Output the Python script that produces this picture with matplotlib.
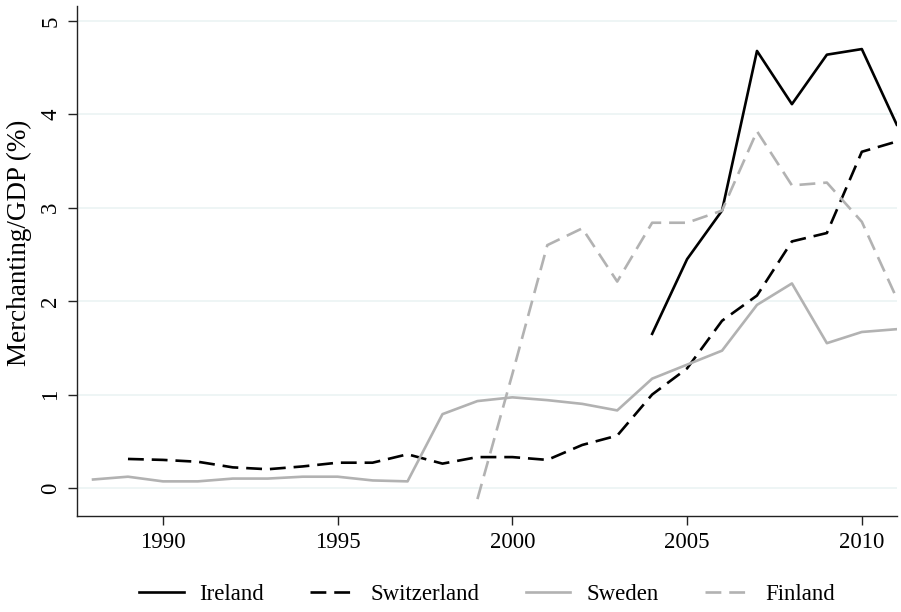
import numpy as np
import matplotlib.pyplot as plt

plt.rcParams['font.family'] = ['Liberation Serif', 'DejaVu Serif']

# merchanting as a share of GDP (%), by year
years_ireland = [2004, 2005, 2006, 2007, 2008, 2009, 2010, 2011]
ireland = [1.65, 2.45, 2.97, 4.68, 4.11, 4.64, 4.70, 3.89]

years_switzerland = list(range(1989, 2012))
switzerland = [0.31, 0.30, 0.28, 0.22, 0.20, 0.23, 0.27, 0.27, 0.36, 0.26,
               0.33, 0.33, 0.30, 0.46, 0.56, 1.00, 1.28, 1.79, 2.06, 2.64,
               2.73, 3.60, 3.71]

years_sweden = list(range(1988, 2012))
sweden = [0.09, 0.12, 0.07, 0.07, 0.10, 0.10, 0.12, 0.12, 0.08, 0.07,
          0.79, 0.93, 0.97, 0.94, 0.90, 0.83, 1.17, 1.32, 1.47, 1.96,
          2.19, 1.55, 1.67, 1.70]

years_finland = list(range(1999, 2012))
finland = [-0.12, 1.22, 2.60, 2.78, 2.21, 2.84, 2.84, 2.97, 3.82, 3.24,
           3.27, 2.85, 2.03]

x_ticks = [1990, 1995, 2000, 2005, 2010]
y_ticks = [0, 1, 2, 3, 4, 5]

grey = '#b2b2b2'
lw = 1.9
dash = (6, 3)

fig = plt.figure(figsize=(9.01, 6.12), dpi=100)
ax = fig.add_axes([0.0858, 0.157, 0.9095, 0.833])

ax.plot(years_ireland, ireland, color='black', lw=lw, label='Ireland')
ax.plot(years_switzerland, switzerland, color='black', lw=lw,
        dashes=dash, label='Switzerland')
ax.plot(years_sweden, sweden, color=grey, lw=lw, label='Sweden')
ax.plot(years_finland, finland, color=grey, lw=lw, dashes=dash,
        label='Finland')

ax.set_xlim(1987.55, 2011)
ax.set_ylim(-0.30, 5.16)
ax.set_xticks(x_ticks)
ax.set_yticks(y_ticks)
ax.set_yticklabels([str(v) for v in y_ticks], rotation=90, va='center')
ax.grid(axis='y', color='#eaf2f3', lw=1.1)
ax.set_axisbelow(True)

for side in ['top', 'right']:
    ax.spines[side].set_visible(False)
for side in ['left', 'bottom']:
    ax.spines[side].set_linewidth(1.0)
    ax.spines[side].set_color('#222222')
ax.tick_params(direction='out', length=6.5, width=1.0, color='#222222',
               labelsize=16.5, pad=5)

ax.set_ylabel('Merchanting/GDP (%)', fontsize=19.5)
ax.yaxis.set_label_coords(-0.055, 0.535)

# legend centred under the plot region
fig.legend(loc='center', bbox_to_anchor=(0.5405, 0.029), ncol=4,
           frameon=False, fontsize=16.5, handlelength=1.95,
           handletextpad=0.7, columnspacing=2.0)

fig.savefig('out.png', dpi=100)
